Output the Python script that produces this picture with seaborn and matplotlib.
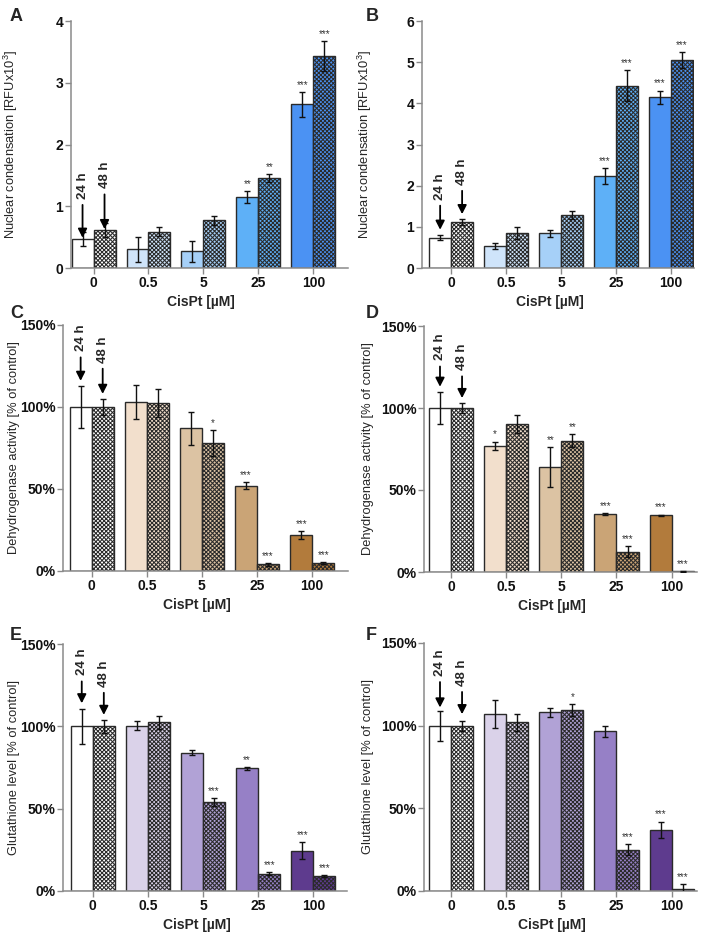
import numpy as np
import pandas as pd
import matplotlib
matplotlib.use("Agg")
import matplotlib.pyplot as plt
import seaborn as sns

# ---------------- data ----------------
conc = ["0", "0.5", "5", "25", "100"]
times = ["24 h", "48 h"]

A_24 = [0.47, 0.30, 0.27, 1.15, 2.65]
A_24_err = [0.11, 0.21, 0.17, 0.09, 0.20]
A_48 = [0.62, 0.59, 0.77, 1.46, 3.43]
A_48_err = [0.11, 0.07, 0.07, 0.06, 0.24]
A_24_sig = ["", "", "", "**", "***"]
A_48_sig = ["", "", "", "**", "***"]

B_24 = [0.74, 0.53, 0.84, 2.23, 4.15]
B_24_err = [0.06, 0.08, 0.08, 0.20, 0.16]
B_48 = [1.12, 0.85, 1.28, 4.43, 5.05]
B_48_err = [0.08, 0.14, 0.10, 0.37, 0.19]
B_24_sig = ["", "", "", "***", "***"]
B_48_sig = ["", "", "", "***", "***"]

C_24 = [100, 103, 87, 52, 22]
C_24_err = [13, 10.5, 10, 2, 2.5]
C_48 = [100, 102.5, 78, 4, 5]
C_48_err = [5, 8.5, 8, 0.8, 0.5]
C_24_sig = ["", "", "", "***", "***"]
C_48_sig = ["", "", "*", "***", "***"]

D_24 = [100, 77, 64, 35.5, 34.5]
D_24_err = [9.5, 2.5, 12, 0.5, 0.5]
D_48 = [100, 90, 80, 12.5, 0.5]
D_48_err = [3, 5.5, 4, 3.5, 0.3]
D_24_sig = ["", "*", "**", "***", "***"]
D_48_sig = ["", "", "**", "***", "***"]

E_24 = [100, 100.5, 84, 74.5, 24.5]
E_24_err = [10.5, 3, 1.5, 1, 5]
E_48 = [100, 102.5, 54, 10.5, 9]
E_48_err = [4, 4, 2.5, 0.8, 0.5]
E_24_sig = ["", "", "", "**", "***"]
E_48_sig = ["", "", "***", "***", "***"]

F_24 = [100, 107, 108, 96.5, 37]
F_24_err = [9, 8.5, 2.5, 3.5, 5]
F_48 = [100, 102, 109.5, 25, 1]
F_48_err = [3, 5, 3.5, 3.5, 3]
F_24_sig = ["", "", "", "", "***"]
F_48_sig = ["", "", "*", "***", "***"]

nuc_ticks = [[0, 1, 2, 3, 4], [0, 1, 2, 3, 4, 5, 6]]
pct_ticks = [0, 50, 100, 150]
pct_labels = ["0%", "50%", "100%", "150%"]

ylab_nuc = "Nuclear condensation [RFUx10$^{3}$]"
ylab_dh = "Dehydrogenase activity [% of control]"
ylab_gsh = "Glutathione level [% of control]"
xlab = "CisPt [\u00b5M]"

blues = ["#ffffff", "#cfe4fa", "#a6d0f8", "#5eb0f7", "#4b92f3"]
browns = ["#ffffff", "#f2dfcc", "#dcc3a3", "#caa476", "#b27b3c"]
purples = ["#ffffff", "#dad2e9", "#b1a2d6", "#9680c6", "#5e3b8e"]

# ---------------- style ----------------
sns.set_style("ticks")
plt.rcParams["font.family"] = ["Liberation Sans", "DejaVu Sans"]
plt.rcParams["mathtext.fontset"] = "custom"
plt.rcParams["mathtext.rm"] = "Liberation Sans"
plt.rcParams["mathtext.it"] = "Liberation Sans"
plt.rcParams["hatch.linewidth"] = 0.75

W, H = 708, 932
fig = plt.figure(figsize=(W / 100, H / 100), dpi=100)


def rect(l, r, t, b):
    return [l / W, 1 - b / H, (r - l) / W, (b - t) / H]


panels = [
    dict(letter="A", pos=(71, 348, 21, 268), xlim=(-0.41, 4.63), ylim=(0, 4),
         d24=A_24, e24=A_24_err, d48=A_48, e48=A_48_err, s24=A_24_sig, s48=A_48_sig,
         colors=blues, ticks=nuc_ticks[0], labels=None, ylabel=ylab_nuc,
         arr=((0.28, 0.1225), (0.3225, 0.1575)), lpos=(10, 8)),
    dict(letter="B", pos=(422, 694, 21, 268), xlim=(-0.53, 4.42), ylim=(0, 6),
         d24=B_24, e24=B_24_err, d48=B_48, e48=B_48_err, s24=B_24_sig, s48=B_48_sig,
         colors=blues, ticks=nuc_ticks[1], labels=None, ylabel=ylab_nuc,
         arr=((0.277, 0.155), (0.337, 0.218)), lpos=(366, 8)),
    dict(letter="C", pos=(63, 348, 325, 571), xlim=(-0.52, 4.65), ylim=(0, 150),
         d24=C_24, e24=C_24_err, d48=C_48, e48=C_48_err, s24=C_24_sig, s48=C_48_sig,
         colors=browns, ticks=pct_ticks, labels=pct_labels, ylabel=ylab_dh,
         arr=((0.893, 0.773), (0.847, 0.72)), lpos=(10, 305)),
    dict(letter="D", pos=(424, 697, 326, 572), xlim=(-0.49, 4.46), ylim=(0, 150),
         d24=D_24, e24=D_24_err, d48=D_48, e48=D_48_err, s24=D_24_sig, s48=D_48_sig,
         colors=browns, ticks=pct_ticks, labels=pct_labels, ylabel=ylab_dh,
         arr=((0.86, 0.753), (0.82, 0.707)), lpos=(366, 305)),
    dict(letter="E", pos=(63, 347, 644, 891), xlim=(-0.54, 4.61), ylim=(0, 150),
         d24=E_24, e24=E_24_err, d48=E_48, e48=E_48_err, s24=E_24_sig, s48=E_48_sig,
         colors=purples, ticks=pct_ticks, labels=pct_labels, ylabel=ylab_gsh,
         arr=((0.873, 0.76), (0.827, 0.713)), lpos=(10, 627)),
    dict(letter="F", pos=(424, 697, 643, 891), xlim=(-0.49, 4.46), ylim=(0, 150),
         d24=F_24, e24=F_24_err, d48=F_48, e48=F_48_err, s24=F_24_sig, s48=F_48_sig,
         colors=purples, ticks=pct_ticks, labels=pct_labels, ylabel=ylab_gsh,
         arr=((0.867, 0.74), (0.827, 0.713)), lpos=(366, 627)),
]

spine_col = "#8a8a8a"
edge_col = "#2a2a2a"

for p in panels:
    l, r, t, b = p["pos"]
    ax = fig.add_axes(rect(l, r, t, b))
    df = pd.DataFrame({
        "conc": conc * 2,
        "time": [times[0]] * 5 + [times[1]] * 5,
        "value": list(p["d24"]) + list(p["d48"]),
    })
    sns.barplot(data=df, x="conc", y="value", hue="time", order=conc,
                hue_order=times, errorbar=None, width=0.8, gap=0,
                legend=False, ax=ax, saturation=1)
    ymax = p["ylim"][1]
    bar_conts = list(ax.containers)[:2]
    for hi, cont in enumerate(bar_conts):
        vals = p["d24"] if hi == 0 else p["d48"]
        errs = p["e24"] if hi == 0 else p["e48"]
        sigs = p["s24"] if hi == 0 else p["s48"]
        centers = []
        for ci, bar in enumerate(cont.patches):
            bar.set_facecolor(p["colors"][ci])
            bar.set_edgecolor(edge_col)
            bar.set_linewidth(1.0)
            if hi == 1:
                bar.set_hatch("xxxxxxxx")
            centers.append(bar.get_x() + bar.get_width() / 2)
        ax.errorbar(centers, vals, yerr=errs, fmt="none", ecolor="#111111",
                    elinewidth=1.0, capsize=2.5, capthick=1.0, zorder=5)
        for cx, v, e, s in zip(centers, vals, errs, sigs):
            if s:
                ax.annotate(s, xy=(cx, v + e), xytext=(0, 1.5),
                            textcoords="offset points", ha="center",
                            va="bottom", fontsize=7, color="#333333")
        # arrow label
        txt_y, tip_y = p["arr"][hi]
        ax.annotate(times[hi], xy=(centers[0], tip_y * ymax),
                    xytext=(centers[0], txt_y * ymax), rotation=90,
                    ha="center", va="bottom", fontsize=9.5, fontweight="bold",
                    arrowprops=dict(arrowstyle="-|>,head_length=0.55,head_width=0.28",
                                    color="black", lw=1.3, shrinkA=2, shrinkB=0),
                    zorder=6)

    ax.set_xlim(*p["xlim"])
    ax.set_ylim(*p["ylim"])
    ax.set_yticks(p["ticks"])
    if p["labels"] is not None:
        ax.set_yticklabels(p["labels"])
    for sp in ["top", "right"]:
        ax.spines[sp].set_visible(False)
    for sp in ["left", "bottom"]:
        ax.spines[sp].set_color(spine_col)
        ax.spines[sp].set_linewidth(1.1)
    ax.tick_params(axis="both", direction="out", length=4, width=1,
                   color=spine_col, labelsize=10, pad=1.5, labelcolor="#111111")
    for lab in ax.get_xticklabels() + ax.get_yticklabels():
        lab.set_fontweight("bold")
    ax.set_xlabel(xlab, fontsize=10, fontweight="bold")
    ax.set_ylabel(p["ylabel"], fontsize=9.3)
    wpx, hpx = r - l, b - t
    off = 354 if l > 354 else 0
    ax.yaxis.set_label_coords(-(l - off - 20) / wpx, 0.5)
    ax.xaxis.set_label_coords(0.47, -27 / hpx)
    lx, ly = p["lpos"]
    fig.text(lx / W, 1 - ly / H, p["letter"], fontsize=13, fontweight="bold",
             ha="left", va="top")

fig.savefig("out.png", dpi=100)
